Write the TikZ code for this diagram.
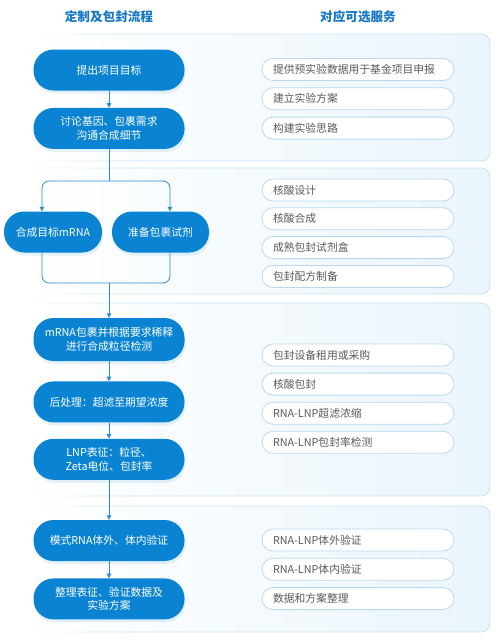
\documentclass[tikz,border=0pt]{standalone}
\usepackage{fontspec}
\setmainfont{Noto Sans CJK SC}
\usetikzlibrary{positioning,arrows.meta,calc,fadings,shadows}

\definecolor{flowblue}{HTML}{0A84D2}
\definecolor{titleblue}{HTML}{1677C4}
\definecolor{linkblue}{HTML}{2B8DD6}
\definecolor{panelline}{HTML}{C6E2F4}
\definecolor{panelfill}{HTML}{EAF5FC}
\definecolor{itemline}{HTML}{B9DAEE}
\definecolor{itemtext}{HTML}{5A5A5A}
\tikzfading[name=fade out right, left color=transparent!0, right color=transparent!100]

\begin{document}
\begin{tikzpicture}[x=1pt, y=-1pt,
    flow/.style={fill=flowblue, text=white, rounded corners=20pt, minimum width=151pt, minimum height=41pt, align=center, inner sep=2pt, font=\fontsize{10.8}{13.5}\selectfont, drop shadow={shadow xshift=1pt, shadow yshift=-3pt, fill=flowblue!60, opacity=0.18}},
    item/.style={draw=itemline, line width=0.8pt, fill=white, rounded corners=11pt, text width=170pt, inner xsep=11pt, minimum height=22pt, align=left, text=itemtext, font=\fontsize{10.8}{12}\selectfont},
    panel/.style={draw=panelline, line width=0.8pt, rounded corners=9pt, left color=white, right color=panelfill},
    heading/.style={text=titleblue, font=\fontsize{12.6}{14}\selectfont\bfseries},
    arrow/.style={-{Triangle[length=4.5pt, width=4.5pt]}, linkblue, line width=0.8pt},
    link/.style={linkblue, line width=0.8pt},
    node distance=17pt
]
\useasboundingbox (0,0) rectangle (500,641);

% Panels
\draw[panel] (30,34) rectangle (490,161);
\draw[panel] (30,168) rectangle (490,294);
\draw[panel] (30,303) rectangle (490,496);
\draw[panel] (30,506) rectangle (490,632);
\fill[white, path fading=fade out right] (26,30) rectangle (135,636);

% Headings
\node[heading] (headflow) at (109,17) {定制及包封流程};
\node[heading] (headserv) at (358,17) {对应可选服务};

% Flow
\node[flow] (goal) at (109,70) {提出项目目标};
\node[flow, below=of goal] (discuss) {讨论基因、包裹需求\\沟通合成细节};
\node[flow, minimum width=98pt] (synth) at (53,232) {合成目标mRNA};
\node[flow, minimum width=97pt] (reagent) at (160.5,232) {准备包裹试剂};
\node[flow, minimum height=43pt] (encap) at (109,339.5) {mRNA包裹并根据要求稀释\\进行合成粒径检测};
\node[flow, below=20pt of encap] (post) {后处理：超滤至期望浓度};
\node[flow, below=16pt of post] (char) {LNP表征：粒径、\\Zeta电位、包封率};
\node[flow] (verify) at (109,540.5) {模式RNA体外、体内验证};
\node[flow, below=of verify] (report) {整理表征、验证数据及\\实验方案};

% Services
\node[item] (plan1) at (358,69.5) {提供预实验数据用于基金项目申报};
\node[item, below=6.5pt of plan1] (plan2) {建立实验方案};
\node[item, below=6.5pt of plan2] (plan3) {构建实验思路};

\node[item] (prep1) at (358,190) {核酸设计};
\node[item, below=6pt of prep1] (prep2) {核酸合成};
\node[item, below=6pt of prep2] (prep3) {成熟包封试剂盒};
\node[item, below=6pt of prep3] (prep4) {包封配方制备};

\node[item] (lnp1) at (358,355) {包封设备租用或采购};
\node[item, below=6.3pt of lnp1] (lnp2) {核酸包封};
\node[item, below=6.3pt of lnp2] (lnp3) {RNA-LNP超滤浓缩};
\node[item, below=6.3pt of lnp3] (lnp4) {RNA-LNP包封率检测};

\node[item] (test1) at (358,540) {RNA-LNP体外验证};
\node[item, below=6.5pt of test1] (test2) {RNA-LNP体内验证};
\node[item, below=6.5pt of test2] (test3) {数据和方案整理};

% Arrows
\coordinate (split) at (109,181);
\coordinate (merge) at (109,283);
\draw[arrow] (goal) -- (discuss);
\draw[link] (discuss) -- (split);
\draw[arrow, rounded corners=7pt] (split) -| ([xshift=-11pt]synth.north);
\draw[arrow, rounded corners=7pt] (split) -| ([xshift=9.5pt]reagent.north);
\draw[link, rounded corners=7pt] ([xshift=-11pt]synth.south) |- (merge) -| ([xshift=9.5pt]reagent.south);
\draw[arrow] (merge) -- (encap);
\draw[arrow] (encap) -- (post);
\draw[arrow] (post) -- (char);
\draw[arrow] (char) -- (verify);
\draw[arrow] (verify) -- (report);
\end{tikzpicture}
\end{document}
